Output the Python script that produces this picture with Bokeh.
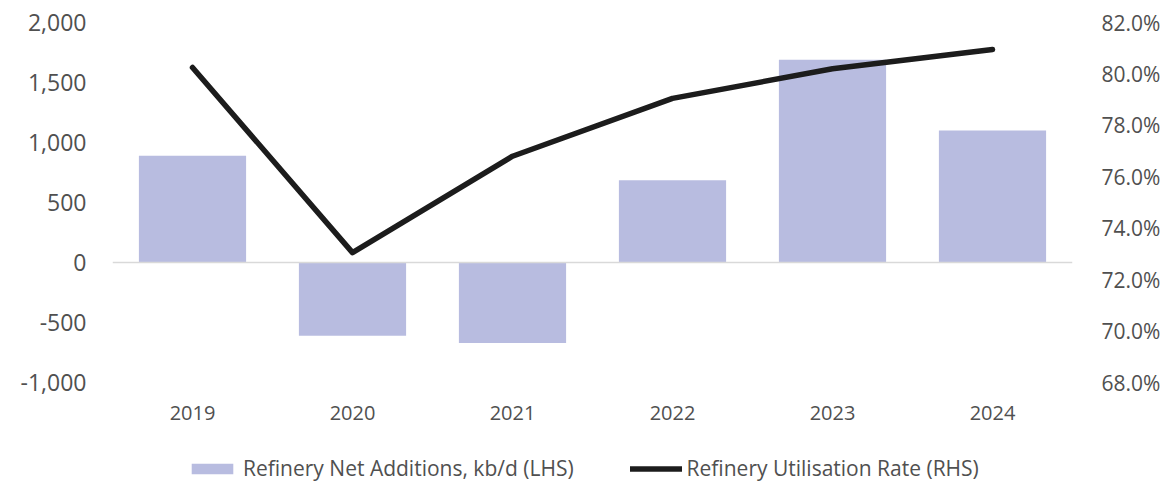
from bokeh.plotting import figure
from bokeh.layouts import column
from bokeh.models import (Range1d, LinearAxis, FactorRange, NumeralTickFormatter,
                          PrintfTickFormatter, Span, Legend, LegendItem, FixedTicker)
from bokeh.embed import file_html
from bokeh.resources import INLINE

years = ["2019", "2020", "2021", "2022", "2023", "2024"]
net_additions = [890, -610, -670, 685, 1690, 1100]
utilisation = [80.25, 73.05, 76.8, 79.05, 80.2, 80.95]

left_ticks = [-1000, -500, 0, 500, 1000, 1500, 2000]
right_ticks = [68, 70, 72, 74, 76, 78, 80, 82]
series_labels = ["Refinery Net Additions, kb/d (LHS)", "Refinery Utilisation Rate (RHS)"]

bar_color = "#b8bce0"
line_color = "#1c1c1c"
text_color = "#505050"
font = "Open Sans"

p = figure(width=1163, height=436, x_range=FactorRange(*years, range_padding=0),
           y_range=Range1d(-1000, 2000), output_backend="svg", toolbar_location=None,
           min_border_left=112, min_border_right=89, min_border_top=22, min_border_bottom=54)
p.extra_y_ranges = {"rhs": Range1d(68, 82)}
p.outline_line_color = None
p.xgrid.grid_line_color = None
p.ygrid.grid_line_color = None

bar_style = dict(color=bar_color, line_color=None)
line_style = dict(line_color=line_color, line_width=5.5, line_join="round", line_cap="round")

p.vbar(x=years, top=net_additions, width=0.67, **bar_style)
p.add_layout(Span(location=0, dimension="width", line_color="#d9d9d9", line_width=1.5))
p.line(x=years, y=utilisation, y_range_name="rhs", **line_style)

# left axis
ax = p.yaxis[0]
ax.ticker = FixedTicker(ticks=left_ticks)
ax.formatter = NumeralTickFormatter(format="0,0")
ax.axis_line_color = None
ax.major_tick_line_color = None
ax.minor_tick_line_color = None
ax.major_label_text_font = font
ax.major_label_text_font_size = "23px"
ax.major_label_text_color = text_color
ax.major_label_standoff = 20

# right axis
rax = LinearAxis(y_range_name="rhs", ticker=FixedTicker(ticks=right_ticks),
                 formatter=PrintfTickFormatter(format="%.1f%%"))
rax.axis_line_color = None
rax.major_tick_line_color = None
rax.minor_tick_line_color = None
rax.major_label_text_font = font
rax.major_label_text_font_size = "21px"
rax.major_label_text_color = text_color
rax.major_label_standoff = 23
p.add_layout(rax, "right")

# x axis
xax = p.xaxis[0]
xax.axis_line_color = None
xax.major_tick_line_color = None
xax.minor_tick_line_color = None
xax.major_label_text_font = font
xax.major_label_text_font_size = "20px"
xax.major_label_text_color = text_color
xax.major_label_standoff = 17

# legend strip: a small figure whose glyphs fall outside its visible range,
# holding the legend inside its frame
q = figure(width=1163, height=46, x_range=p.x_range, y_range=Range1d(5000, 6000),
           output_backend="svg", toolbar_location=None, x_axis_type=None, y_axis_type=None,
           min_border=0)
q.outline_line_color = None
q.xgrid.grid_line_color = None
q.ygrid.grid_line_color = None
lb = q.vbar(x=years, top=net_additions, width=0.67, **bar_style)
ll = q.line(x=years, y=utilisation, **line_style)

legend = Legend(items=[
    LegendItem(label=series_labels[0], renderers=[lb]),
    LegendItem(label=series_labels[1], renderers=[ll]),
], orientation="horizontal", location=(74, 0))
legend.label_text_font = font
legend.label_text_font_size = "21px"
legend.label_text_color = text_color
legend.glyph_width = 52
legend.glyph_height = 13
legend.label_standoff = 5
legend.spacing = 56
legend.border_line_color = None
legend.background_fill_alpha = 0
legend.margin = 0
legend.padding = 2
q.add_layout(legend, "center")

layout = column(p, q, spacing=0)
open("out.html", "w").write(file_html(layout, INLINE))
